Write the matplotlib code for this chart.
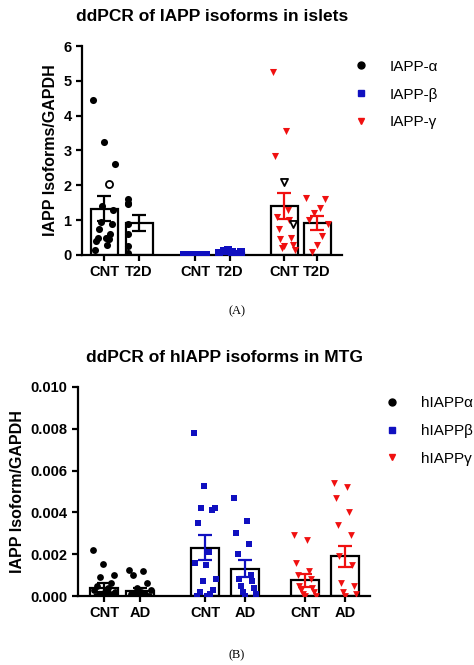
import numpy as np
import matplotlib
matplotlib.use("Agg")
import matplotlib.pyplot as plt

plt.rcParams['font.family'] = ['Liberation Sans', 'DejaVu Sans']
plt.rcParams['font.weight'] = 'bold'

# --- panel A: islets ---
a_labels = ['CNT', 'T2D', 'CNT', 'T2D', 'CNT', 'T2D']
a_alpha_cnt = [4.45, 3.25, 2.6, 1.4, 1.3, 0.95, 0.9, 0.75, 0.6, 0.5, 0.45, 0.4, 0.3, 0.15, 0.5]
a_alpha_cnt_open = [2.05]
a_alpha_t2d = [1.6, 1.5, 1.45, 0.9, 0.6, 0.25, 0.05]
a_beta_cnt = [0.01] * 10
a_beta_t2d = [0.05, 0.12, 0.15, 0.08, 0.03, 0.1]
a_gamma_cnt = [5.25, 3.55, 2.85, 1.3, 1.1, 1.0, 0.75, 0.5, 0.45, 0.3, 0.2, 0.15, 0.25]
a_gamma_cnt_open = [2.1, 0.9]
a_gamma_t2d = [1.65, 1.6, 1.35, 1.2, 1.0, 0.9, 0.55, 0.3, 0.1]
a_means = [1.33, 0.93, 0.01, 0.05, 1.4, 0.93]
a_sems = [0.35, 0.23, 0.005, 0.02, 0.38, 0.2]

# --- panel B: MTG ---
b_labels = ['CNT', 'AD', 'CNT', 'AD', 'CNT', 'AD']
b_alpha_cnt = [0.0022, 0.00155, 0.001, 0.0009, 0.0006, 0.0005, 0.0004, 0.0003, 0.0002,
               0.0002, 0.0001, 0.0001, 0.00005, 0.00005, 0.0, 0.0]
b_alpha_ad = [0.00125, 0.0012, 0.001, 0.0006, 0.0004, 0.0003, 0.0002, 0.0001, 0.0001,
              0.00005, 0.0, 0.0]
b_beta_cnt = [0.0078, 0.00525, 0.0042, 0.0042, 0.0041, 0.0035, 0.0021, 0.0016, 0.0015,
              0.0008, 0.0007, 0.0003, 0.0002, 0.0001, 0.0, 0.0]
b_beta_ad = [0.0047, 0.0036, 0.0030, 0.0025, 0.0020, 0.0010, 0.0008, 0.0007, 0.0005,
             0.0004, 0.0002, 0.0001, 0.0]
b_gamma_cnt = [0.0029, 0.0027, 0.0016, 0.0012, 0.0010, 0.0008, 0.0005, 0.0004, 0.0003,
               0.0002, 0.0001, 0.0, 0.0]
b_gamma_ad = [0.0054, 0.0052, 0.0047, 0.0040, 0.0034, 0.0029, 0.0019, 0.0015, 0.0006,
              0.0005, 0.0002, 0.0001, 0.0]
b_means = [0.0004, 0.00025, 0.0023, 0.0013, 0.00075, 0.0019]
b_sems = [0.0002, 0.00012, 0.0006, 0.0004, 0.0003, 0.0005]

colors = ['black', 'black', '#1010c0', '#1010c0', '#f01010', '#f01010']
markers = ['o', 'o', 's', 's', 'v', 'v']


def spread(n, width):
    # fixed zig-zag spread of points across the bar
    offs = np.array([((i * 7) % n) / max(n - 1, 1) - 0.5 for i in range(n)])
    return offs * width


def panel(ax, pos, groups, means, sems, labels, width, ms):
    for i, (p, vals) in enumerate(zip(pos, groups)):
        ax.bar(p, means[i], width=width, facecolor='white', edgecolor='black',
               linewidth=1.6, zorder=1)
        ax.scatter(p + spread(len(vals), width * 0.8), vals, s=ms, c=colors[i],
                   marker=markers[i], zorder=3, linewidths=0)
        ax.errorbar(p, means[i], yerr=sems[i], color=colors[i], capsize=5,
                    elinewidth=1.6, capthick=1.6, zorder=4)
    ax.set_xticks(pos)
    ax.set_xticklabels(labels, fontsize=11, fontweight='bold')
    for s in ['top', 'right']:
        ax.spines[s].set_visible(False)
    for s in ['left', 'bottom']:
        ax.spines[s].set_linewidth(1.6)
    ax.tick_params(width=1.6, length=4, labelsize=10.5)
    for t in ax.get_yticklabels():
        t.set_fontweight('bold')


fig = plt.figure(figsize=(4.74, 6.65), dpi=100)

ax1 = fig.add_axes([82 / 474, 1 - 255 / 665, 260 / 474, 209 / 665])
pos1 = [22, 57, 113, 148, 202, 235]
groups1 = [a_alpha_cnt, a_alpha_t2d, a_beta_cnt, a_beta_t2d, a_gamma_cnt, a_gamma_t2d]
panel(ax1, pos1, groups1, a_means, a_sems, a_labels, 27, 26)
ax1.scatter([pos1[0] + 5], a_alpha_cnt_open, s=26, facecolors='white', edgecolors='black',
            linewidths=1.3, zorder=3)
ax1.scatter([pos1[4], pos1[4] + 9], a_gamma_cnt_open, s=26, marker='v', facecolors='white',
            edgecolors='black', linewidths=1.3, zorder=3)
ax1.set_xlim(0, 260)
ax1.set_ylim(0, 6)
ax1.set_yticks(range(7))
ax1.set_ylabel('IAPP Isoforms/GAPDH', fontsize=11.5, fontweight='bold')
ax1.set_title('ddPCR of IAPP isoforms in islets', fontsize=12.5, fontweight='bold', pad=18)
h = [plt.Line2D([], [], ls='', marker=markers[k], color=colors[k], ms=5) for k in (0, 2, 4)]
ax1.legend(h, ['IAPP-α', 'IAPP-β', 'IAPP-γ'], loc='upper left', bbox_to_anchor=(0.96, 1.0),
           frameon=False, prop={'size': 11, 'weight': 'normal'}, handletextpad=0.9,
           labelspacing=0.9)
fig.text(0.5, 1 - 311 / 665, '(A)', ha='center', va='center', fontsize=9,
         family='Liberation Serif', fontweight='normal')

ax2 = fig.add_axes([78 / 474, 1 - 596 / 665, 292 / 474, 209 / 665])
pos2 = [26, 62, 127, 167, 227, 267]
groups2 = [b_alpha_cnt, b_alpha_ad, b_beta_cnt, b_beta_ad, b_gamma_cnt, b_gamma_ad]
panel(ax2, pos2, groups2, b_means, b_sems, b_labels, 28, 24)
ax2.set_xlim(0, 292)
ax2.set_ylim(0, 0.010)
ax2.set_yticks(np.arange(0, 0.0101, 0.002))
ax2.set_yticklabels(['%.3f' % v for v in np.arange(0, 0.0101, 0.002)], fontweight='bold')
ax2.set_ylabel('IAPP Isoform/GAPDH', fontsize=11.5, fontweight='bold')
ax2.set_title('ddPCR of hIAPP isoforms in MTG', fontsize=12.5, fontweight='bold', pad=18)
ax2.legend(h, ['hIAPPα', 'hIAPPβ', 'hIAPPγ'], loc='upper left', bbox_to_anchor=(0.99, 1.0),
           frameon=False, prop={'size': 11, 'weight': 'normal'}, handletextpad=0.9,
           labelspacing=0.9, borderaxespad=0.2)
fig.text(0.5, 1 - 655 / 665, '(B)', ha='center', va='center', fontsize=9,
         family='Liberation Serif', fontweight='normal')

fig.savefig('out.png', dpi=100)
